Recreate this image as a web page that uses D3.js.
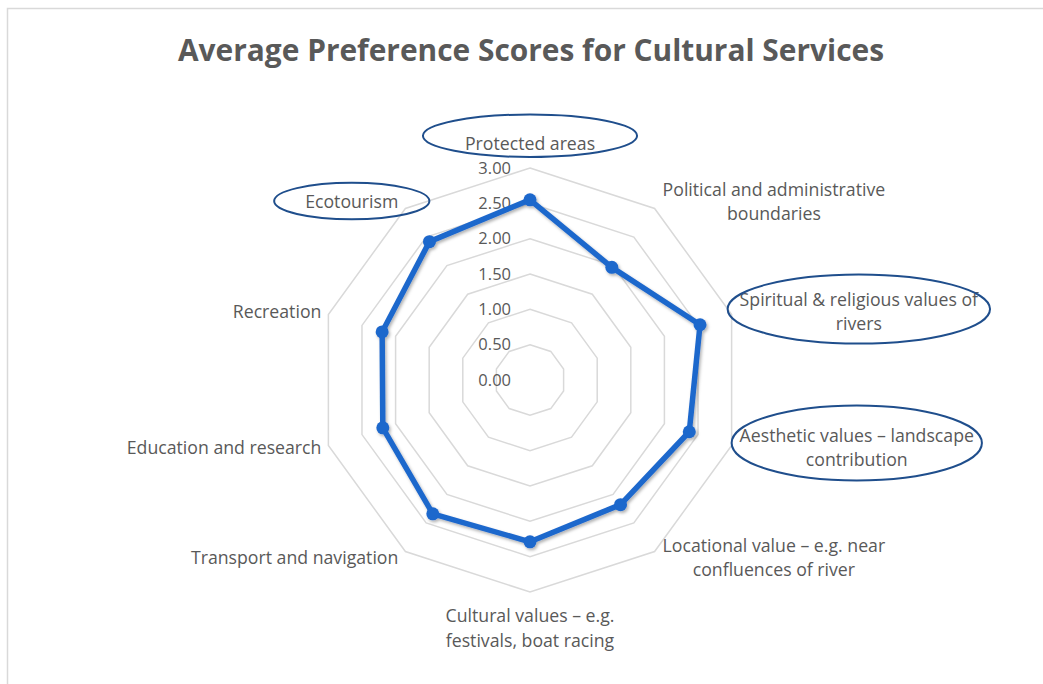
<!DOCTYPE html>
<html><head><meta charset="utf-8">
<script src="https://cdn.jsdelivr.net/npm/d3@7/dist/d3.min.js"></script>
<style>body{margin:0;background:#fff}svg{display:block}text{font-family:"Open Sans",Lato,sans-serif;fill:#595959}</style>
</head><body><svg id="c" width="1043" height="684"></svg>
<script>
const categories = [
  ["Protected areas"],
  ["Political and administrative", "boundaries"],
  ["Spiritual & religious values of", "rivers"],
  ["Aesthetic values \u2013 landscape", "contribution"],
  ["Locational value \u2013 e.g. near", "confluences of river"],
  ["Cultural values \u2013 e.g.", "festivals, boat racing"],
  ["Transport and navigation"],
  ["Education and research"],
  ["Recreation"],
  ["Ecotourism"]
];
const values = [2.55, 1.97, 2.53, 2.37, 2.18, 2.29, 2.34, 2.19, 2.20, 2.42];
const tickValues = [0, 0.5, 1.0, 1.5, 2.0, 2.5, 3.0];
// hand-drawn highlight ellipses: category index, padding and offset
const highlightIdx = [0, 9, 2, 3];
const highlightPadX = [42, 31, 12, 8];
const highlightPadY = [9, 6, 10, 13];
const highlightDy = [-8, -1, -3, -5];
const title = "Average Preference Scores for Cultural Services";

const svg = d3.select("#c");
const cx = 530, cy = 380, R = 212;
const r = d3.scaleLinear().domain([0, 3]).range([0, R]);
const ang = d3.scaleLinear().domain([0, categories.length]).range([0, 2 * Math.PI]);
const pt = (i, v) => [cx + r(v) * Math.sin(ang(i)), cy - r(v) * Math.cos(ang(i))];

// frame
svg.append("path").attr("d", "M7.5,684 V8.5 H1043").attr("fill", "none").attr("stroke", "#d9d9d9").attr("stroke-width", 1.5);

// title
svg.append("text").attr("x", 531).attr("y", 61).attr("text-anchor", "middle")
  .attr("font-size", 31).attr("font-weight", 700).attr("textLength", 706).attr("lengthAdjust", "spacingAndGlyphs")
  .text(title);

// grid rings
const ring = d3.line();
svg.append("g").selectAll("path").data(tickValues.filter(t => t > 0)).join("path")
  .attr("d", t => ring(d3.range(categories.length).map(i => pt(i, t))) + "Z")
  .attr("fill", "none").attr("stroke", "#d9d9d9").attr("stroke-width", 1.5);

// tick labels
svg.append("g").selectAll("text").data(tickValues).join("text")
  .attr("x", cx - 19).attr("y", t => cy - r(t)).attr("dy", "0.35em")
  .attr("text-anchor", "end").attr("font-size", 16.5)
  .text(t => d3.format(".2f")(t));

// series
const defs = svg.append("defs");
const f = defs.append("filter").attr("id", "sh").attr("x", "-10%").attr("y", "-10%").attr("width", "120%").attr("height", "120%");
f.append("feDropShadow").attr("dx", 1.5).attr("dy", 2).attr("stdDeviation", 1.5).attr("flood-color", "#000").attr("flood-opacity", 0.3);

const g = svg.append("g").attr("filter", "url(#sh)");
g.append("path").attr("d", d3.line()(values.map((v, i) => pt(i, v))) + "Z")
  .attr("fill", "none").attr("stroke", "#1f67cc").attr("stroke-width", 5.5).attr("stroke-linejoin", "round");
g.selectAll("circle").data(values).join("circle")
  .attr("cx", (v, i) => pt(i, v)[0]).attr("cy", (v, i) => pt(i, v)[1]).attr("r", 6.5)
  .attr("fill", "#1f67cc");

// category labels
const fs = 17.7, lh = 24.5;
categories.forEach((lines, i) => {
  const a = ang(i), s = Math.sin(a), c = Math.cos(a);
  const [vx, vy] = pt(i, 3);
  const t = svg.append("text").attr("font-size", fs).attr("text-anchor", "middle");
  const spans = lines.map(l => t.append("tspan").text(l));
  const w = d3.max(spans, sp => sp.node().getComputedTextLength());
  const h = lines.length * lh;
  let bx, by; // box center
  if (Math.abs(s) < 0.1) {
    bx = vx;
    by = c > 0 ? vy - 12 - h / 2 : vy + 12 + h / 2;
  } else {
    bx = s > 0 ? vx + 8 + w / 2 : vx - 7 - w / 2;
    by = vy - 8 * c;
  }
  spans.forEach((sp, k) => sp.attr("x", bx).attr("y", by - h / 2 + lh * (k + 0.5)).attr("dy", "0.35em"));
  const hi = highlightIdx.indexOf(i);
  if (hi >= 0) {
    svg.append("ellipse").attr("cx", bx).attr("cy", by + highlightDy[hi])
      .attr("rx", w / 2 + highlightPadX[hi]).attr("ry", h / 2 + highlightPadY[hi])
      .attr("fill", "none").attr("stroke", "#1f4e8c").attr("stroke-width", 2);
  }
});
</script></body></html>
